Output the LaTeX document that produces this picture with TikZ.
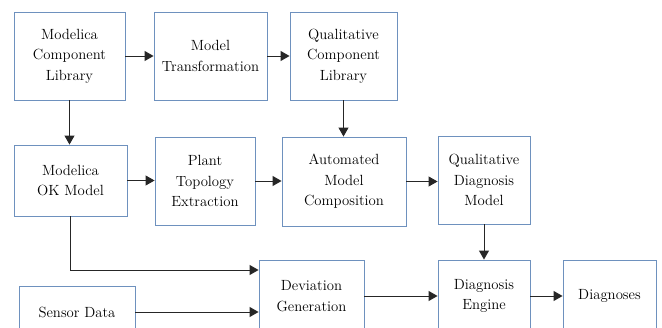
\documentclass[tikz,border=0pt]{standalone}
\usetikzlibrary{arrows.meta}
\definecolor{boxblue}{RGB}{110,145,190}

\begin{document}
\begin{tikzpicture}[x=1bp,y=-1bp,
    blk/.style={draw=boxblue, line width=0.9bp, align=center, inner sep=0pt,
                font=\fontsize{14.8}{20.5}\selectfont},
    flow/.style={-{Triangle[length=9bp,width=10bp]}, line width=1bp, draw=black!85}]
    \useasboundingbox (0,0) rectangle (662,327);
    \clip (0,0) rectangle (662,327);
    % top row
    \node[blk, minimum width=111bp, minimum height=88bp] (mcl) at (69.5,56) {Modelica\\Component\\Library};
    \node[blk, minimum width=113bp, minimum height=88bp] (trans) at (210.5,56) {Model\\Transformation};
    \node[blk, minimum width=107bp, minimum height=88bp] (qcl) at (343.5,56) {Qualitative\\Component\\Library};
    % middle row
    \node[blk, minimum width=113bp, minimum height=71bp] (mok) at (70.5,180.5) {Modelica\\OK Model};
    \node[blk, minimum width=100bp, minimum height=88bp] (topo) at (205,181) {Plant\\Topology\\Extraction};
    \node[blk, minimum width=124bp, minimum height=89bp] (comp) at (344,181.5) {Automated\\Model\\Composition};
    \node[blk, minimum width=92bp, minimum height=88bp] (qdm) at (484,180) {Qualitative\\Diagnosis\\Model};
    % bottom row (cut by the page edge)
    \node[blk, minimum width=116bp, minimum height=52bp] (sensor) at (77,312) {Sensor Data};
    \node[blk, minimum width=105bp, minimum height=72bp] (dev) at (311.5,296) {Deviation\\Generation};
    \node[blk, minimum width=92bp, minimum height=72bp] (engine) at (484,296) {Diagnosis\\Engine};
    \node[blk, minimum width=93bp, minimum height=72bp] (diag) at (609.5,296) {Diagnoses};

    \draw[flow] (mcl) -- (trans);
    \draw[flow] (trans) -- (qcl);
    \draw[flow] (mcl.south) -- (mcl.south |- mok.north);
    \draw[flow] (qcl.south) -- (qcl.south |- comp.north);
    \draw[flow] (mok.east) -- (mok.east -| topo.west);
    \draw[flow] (topo.east) -- (topo.east -| comp.west);
    \draw[flow] (comp.east) -- (comp.east -| qdm.west);
    \draw[flow] (mok.south) |- ([yshift=26bp]dev.west);
    \draw[flow] (sensor.east) -- (sensor.east -| dev.west);
    \draw[flow] (qdm) -- (engine);
    \draw[flow] (dev) -- (engine);
    \draw[flow] (engine) -- (diag);
\end{tikzpicture}
\end{document}
